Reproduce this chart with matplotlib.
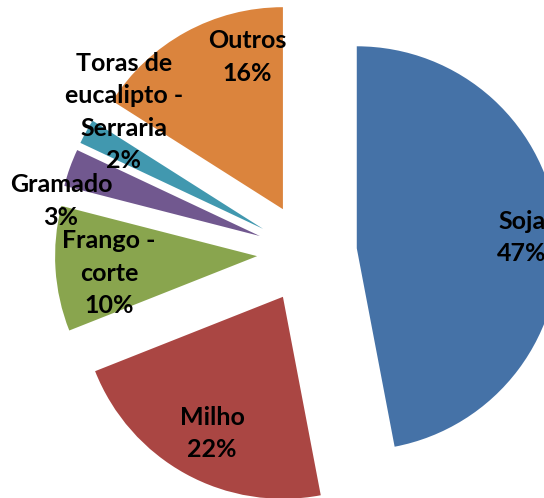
import numpy as np
import matplotlib
matplotlib.use("Agg")
import matplotlib.pyplot as plt

categories = ["Soja", "Milho", "Frango -\ncorte", "Gramado", "Toras de\neucalipto -\nSerraria", "Outros"]
values = [47, 22, 10, 3, 2, 16]
pct_labels = ["47%", "22%", "10%", "3%", "2%", "16%"]
colors = ["#4572A7", "#AA4643", "#89A54E", "#71588F", "#4198AF", "#DB843D"]

W, H = 544, 498
fig = plt.figure(figsize=(W / 100, H / 100), dpi=100)
ax = fig.add_axes([0, 0, 1, 1])

R = 202.0
center = (307.0, H - 253.0)
explode = [50.0] * len(values)

wedges, _ = ax.pie(values, radius=R, center=center, explode=explode,
                   startangle=90, counterclock=False, colors=colors,
                   wedgeprops=dict(linewidth=0))

# label placement (distance from wedge apex as fraction of radius, angle offset in degrees, ccw)
lab_dist = [0.82, 0.75, 0.737, 1.003, 0.91, 0.789]
lab_off = [-0.6, 0.9, 1.8, 9.0, -11.9, -15.8]
y_shift = -3.0

for w, cat, pct, d, off in zip(wedges, categories, pct_labels, lab_dist, lab_off):
    th_mid = 0.5 * (w.theta1 + w.theta2) + off
    cx, cy = w.center
    x = cx + d * R * np.cos(np.deg2rad(th_mid))
    y = cy + d * R * np.sin(np.deg2rad(th_mid)) + y_shift
    ax.text(x, y, cat + "\n" + pct, ha="center", va="center", multialignment="center",
            fontsize=18, fontweight="bold", family=["Lato", "DejaVu Sans"],
            linespacing=1.5, color="black")

ax.set_xlim(0, W)
ax.set_ylim(0, H)
ax.set_aspect("equal")
ax.axis("off")
fig.savefig("out.png", dpi=100)
